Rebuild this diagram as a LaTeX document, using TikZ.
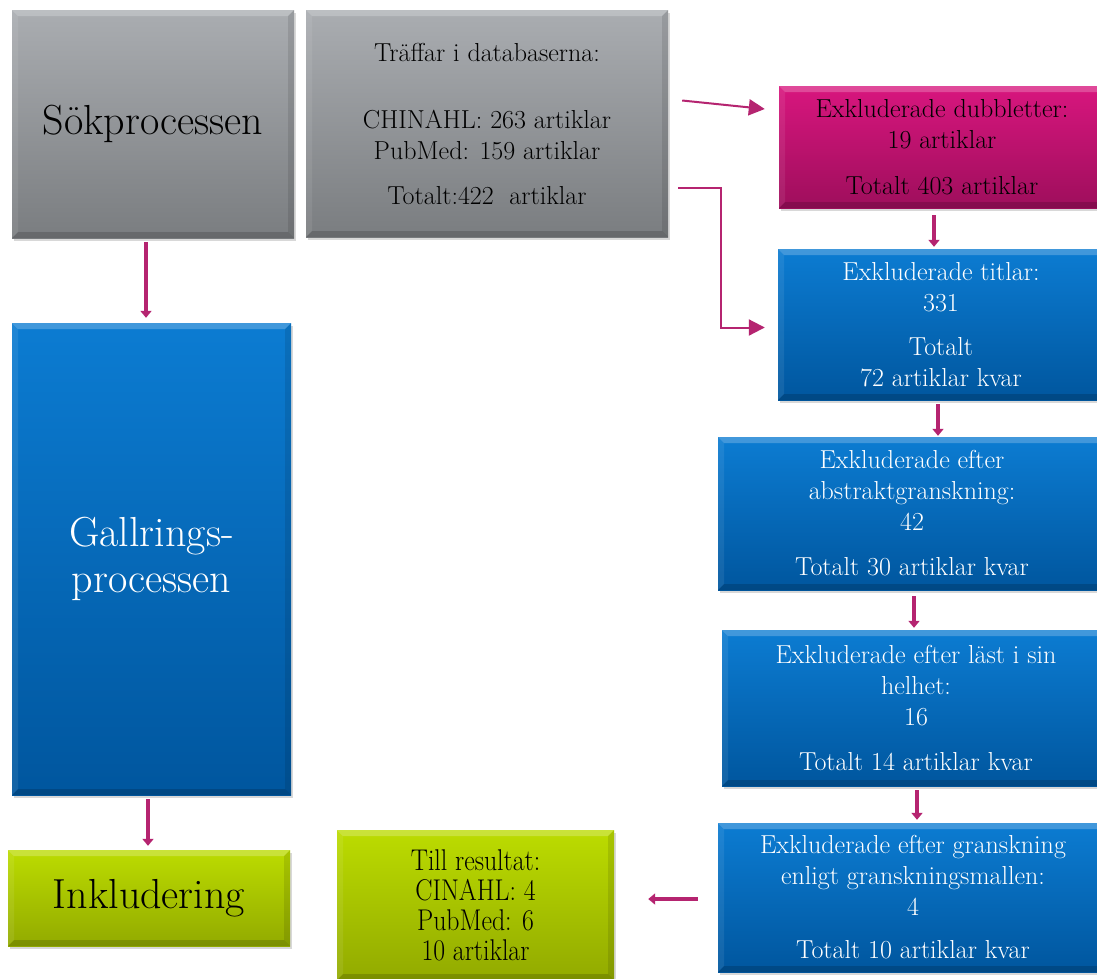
\documentclass[tikz,border=0pt]{standalone}
\usepackage{fontspec}
\usepackage{graphicx}
\usetikzlibrary{shadows,arrows.meta,positioning,calc}
\definecolor{GT}{RGB}{170,173,177}
\definecolor{GB}{RGB}{122,125,128}
\definecolor{MT}{RGB}{216,22,126}
\definecolor{MB}{RGB}{158,14,92}
\definecolor{BT}{RGB}{12,124,210}
\definecolor{BB}{RGB}{0,86,158}
\definecolor{LT}{RGB}{188,220,0}
\definecolor{LB}{RGB}{146,170,0}
\definecolor{AR}{RGB}{181,36,112}
\tikzstyle{box} = [rectangle, inner sep=4pt, align=center,
  drop shadow={shadow xshift=1.5pt, shadow yshift=-3pt, opacity=0.3},
  path picture={
    \fill[white, opacity=0.22] (path picture bounding box.north west) -- (path picture bounding box.north east)
      -- ([shift={(-6pt,-6pt)}]path picture bounding box.north east) -- ([shift={(6pt,-6pt)}]path picture bounding box.north west) -- cycle;
    \fill[white, opacity=0.08] (path picture bounding box.north west) -- (path picture bounding box.south west)
      -- ([shift={(6pt,6pt)}]path picture bounding box.south west) -- ([shift={(6pt,-6pt)}]path picture bounding box.north west) -- cycle;
    \fill[black, opacity=0.16] (path picture bounding box.south west) -- (path picture bounding box.south east)
      -- ([shift={(-6pt,6pt)}]path picture bounding box.south east) -- ([shift={(6pt,6pt)}]path picture bounding box.south west) -- cycle;
    \fill[black, opacity=0.1] (path picture bounding box.north east) -- (path picture bounding box.south east)
      -- ([shift={(-6pt,6pt)}]path picture bounding box.south east) -- ([shift={(-6pt,-6pt)}]path picture bounding box.north east) -- cycle;
  }]
\tikzstyle{graybox} = [box, top color=GT, bottom color=GB, text=black]
\tikzstyle{magbox} = [box, top color=MT, bottom color=MB, text=black]
\tikzstyle{bluebox} = [box, top color=BT, bottom color=BB, text=white]
\tikzstyle{greenbox} = [box, top color=LT, bottom color=LB, text=black]
\tikzstyle{big} = [font=\fontsize{42}{46}\selectfont]
\tikzstyle{small} = [font=\fontsize{26}{31}\selectfont]
\tikzstyle{flow} = [color=AR, line width=3.5pt, -{Triangle[length=7pt,width=11pt]}]
\tikzstyle{flowthin} = [color=AR, line width=2pt, -{Triangle[length=16pt,width=16pt]}]
\newcommand{\narrow}[1]{\scalebox{0.86}[1]{#1}}

\begin{document}
\begin{tikzpicture}[x=1pt, y=-1pt]
  \path[use as bounding box, fill=white] (0,0) rectangle (1097,978);

  % left column
  \node[graybox, big, minimum width=282pt, minimum height=228pt] (sok) at (153,124) {Sökprocessen};
  \node[bluebox, big, minimum width=279pt, minimum height=472pt] (gallr) at (151.5,559) {Gallrings-\\processen};
  \node[greenbox, big, minimum width=282pt, minimum height=96pt] (inkl) at (149,898) {Inkludering};

  % search hits
  \node[graybox, small, minimum width=362pt, minimum height=227pt] (traff) at (487,123.5)
    {Träffar i databaserna:\\[36pt] CHINAHL: 263 artiklar\\ PubMed: 159 artiklar\\[14pt] Totalt:422~ artiklar};

  % right column
  \node[magbox, small, minimum width=326pt, minimum height=122pt] (dubb) at (942,147)
    {Exkluderade dubbletter:\\ 19 artiklar\\[15pt] Totalt 403 artiklar};
  \node[bluebox, small, minimum width=326pt, minimum height=151pt] (titlar) at (941,324.5)
    {Exkluderade titlar:\\ 331\\[13pt] Totalt\\ 72 artiklar kvar};
  \node[bluebox, small, minimum width=388pt, minimum height=153pt] (abstr) at (912,513.5)
    {Exkluderade efter\\ abstraktgranskning:\\ 42\\[14pt] Totalt 30 artiklar kvar};
  \node[bluebox, small, minimum width=388pt, minimum height=156pt] (last) at (916,708)
    {Exkluderade efter läst i sin\\ helhet:\\ 16\\[14pt] Totalt 14 artiklar kvar};
  \node[bluebox, small, minimum width=390pt, minimum height=149pt] (gransk) at (913,897.5)
    {Exkluderade efter granskning\\ enligt granskningsmallen:\\ 4\\[12pt] Totalt 10 artiklar kvar};

  % result
  \node[greenbox, font=\fontsize{30}{30}\selectfont, minimum width=277pt, minimum height=150pt] (till) at (475.5,905)
    {\narrow{Till resultat:}\\ \narrow{CINAHL: 4}\\ \narrow{PubMed: 6}\\ \narrow{10 artiklar}};

  % connectors
  \draw[flow, shorten <=4pt, shorten >=5pt] ([xshift=-7pt]sok.south) -- ([xshift=-5.5pt]gallr.north);
  \draw[flow, shorten <=4pt, shorten >=4pt] ([xshift=-3.5pt]gallr.south) -- ([xshift=-1pt]inkl.north);
  \draw[flowthin] ([shift={(14,-23)}]traff.east) -- ([shift={(-14,-38)}]dubb.west);
  \draw[flowthin] ([shift={(10,64)}]traff.east) -| ([shift={(-57,3)}]titlar.west) -- ([shift={(-13,3)}]titlar.west);
  \draw[flow, shorten <=7pt, shorten >=2pt] ([xshift=-8pt]dubb.south) -- ([xshift=-7pt]titlar.north);
  \draw[flow, shorten <=4pt, shorten >=1pt] ([xshift=-3pt]titlar.south) -- ([xshift=26pt]abstr.north);
  \draw[flow, shorten <=6pt, shorten >=2pt] ([xshift=2pt]abstr.south) -- ([xshift=-2pt]last.north);
  \draw[flow, shorten <=4pt, shorten >=3pt] ([xshift=1pt]last.south) -- ([xshift=4pt]gransk.north);
  \draw[flow, shorten <=20pt, shorten >=34pt] ([yshift=-1.5pt]gransk.west) -- ([yshift=-1.5pt]gransk.west -| till.east);
\end{tikzpicture}
\end{document}
